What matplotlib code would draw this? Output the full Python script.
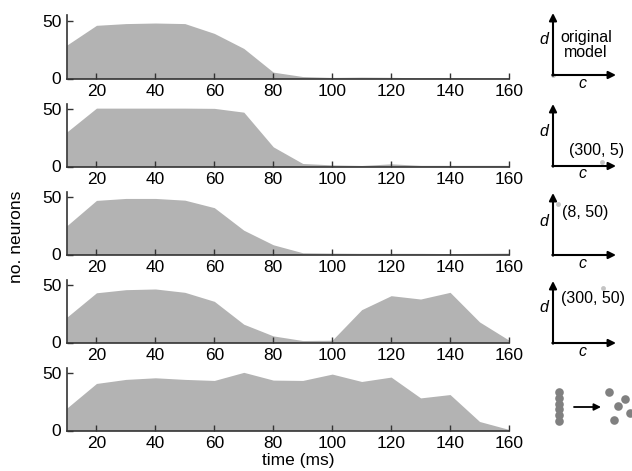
import numpy as np
import matplotlib
matplotlib.use("Agg")
import matplotlib.pyplot as plt

plt.rcParams['font.family'] = ['Liberation Sans', 'DejaVu Sans']

# ---- data ----
time_ms = [10, 20, 30, 40, 50, 60, 70, 80, 90, 100, 110, 120, 130, 140, 150, 160]
orig_model = [29, 46, 47.5, 48, 47.5, 39, 26, 5.5, 1.7, 0.9, 1.2, 1.0, 0.6, 0.8, 0.5, 0.5]
c300_d5 = [30, 50.5, 50.5, 50.5, 50.5, 50.3, 47, 17, 2.6, 1.4, 0.9, 2.3, 1.0, 1.0, 1.0, 1.0]
c8_d50 = [25, 46.8, 48.5, 48.5, 47, 40.5, 21, 8.4, 1.5, 1.2, 1.0, 1.0, 1.0, 0.8, 1.0, 1.2]
c300_d50 = [22, 43, 45.7, 46.3, 43.4, 35.6, 15.8, 5.7, 1.7, 2.0, 28.4, 40.5, 37.6, 43.4, 17.8, 2.0]
shuffled = [19.5, 40.7, 44.2, 45.6, 44.2, 43.3, 50.3, 43.6, 43.3, 48.8, 42.4, 46.2, 28.2, 31.1, 7.8, 0.9]
series = [orig_model, c300_d5, c8_d50, c300_d50, shuffled]
xticks = [20, 40, 60, 80, 100, 120, 140, 160]
yticks = [0, 50]

W, H = 632, 471
fig = plt.figure(figsize=(W / 100, H / 100), dpi=100)

left_px, right_px = 67, 509
ax_h = 63
fill_col = '#b3b3b3'
spine_col = '#333333'

for i, vals in enumerate(series):
    bottom_px = 78.5 + 88 * i
    ax = fig.add_axes([left_px / W, (H - bottom_px) / H, (right_px - left_px) / W, ax_h / H])
    ax.fill_between(time_ms, vals, 0, color=fill_col, linewidth=0)
    ax.set_xlim(10, 160)
    ax.set_ylim(0, 54.5)
    ax.set_xticks(xticks)
    ax.set_yticks(yticks)
    for s in ['top', 'right']:
        ax.spines[s].set_visible(False)
    for s in ['left', 'bottom']:
        ax.spines[s].set_color(spine_col)
        ax.spines[s].set_linewidth(1.2)
    ax.tick_params(direction='in', length=4, width=1.0, color=spine_col,
                   labelsize=12.5, pad=4)
    ax.patch.set_alpha(0)

fig.text(17 / W, 1 - 237 / H, 'no. neurons', rotation=90, fontsize=12.5,
         ha='center', va='center')
fig.text(298 / W, 1 - 461 / H, 'time (ms)', fontsize=12.5, ha='center', va='center')

# ---- schematic insets (pixel coordinates overlay) ----
ov = fig.add_axes([0, 0, 1, 1])
ov.set_xlim(0, W)
ov.set_ylim(H, 0)
ov.axis('off')
ov.patch.set_alpha(0)

arrow_kw = dict(arrowstyle='-|>', lw=1.5, color='black', mutation_scale=11,
                shrinkA=0, shrinkB=0)
origins_y = [75, 166, 255, 343]
labels = [None, '(300, 5)', '(8, 50)', '(300, 50)']
label_pos = [None, (597, 150), (585, 213), (593, 299)]
dot_pos = [(553, 75), (602, 162), (558, 204), (603, 288)]
d_y = [39, 132, 222, 308]
c_y = [83, 174, 264, 352]
for k, oy in enumerate(origins_y):
    ox = 553
    ov.annotate('', xy=(ox, oy - 62), xytext=(ox, oy + 0.7), arrowprops=arrow_kw)
    ov.annotate('', xy=(616, oy), xytext=(ox - 0.7, oy), arrowprops=arrow_kw)
    ov.text(544, d_y[k], 'd', style='italic', fontsize=11.5, ha='center', va='center')
    ov.text(582, c_y[k], 'c', style='italic', fontsize=11.5, ha='center', va='center')
    ov.plot([dot_pos[k][0]], [dot_pos[k][1]], 'o', color='#c4c4c4', markersize=3.5,
            markeredgewidth=0)
    if labels[k]:
        ov.text(label_pos[k][0], label_pos[k][1], labels[k], fontsize=11.5,
                ha='center', va='center')
ov.text(586, 45, 'original\nmodel', fontsize=11.5, ha='center', va='center',
        linespacing=1.0)

# panel 5 schematic: column of dots -> scattered dots
col_y = [392, 397.8, 403.6, 409.4, 415.2, 421]
ov.plot([559] * len(col_y), col_y, 'o', color='#808080', markersize=6.2,
        markeredgewidth=0)
ov.annotate('', xy=(601, 407), xytext=(574, 407),
            arrowprops=dict(arrowstyle='-|>', lw=1.3, color='black', mutation_scale=10,
                            shrinkA=0, shrinkB=0))
scat_x = [609, 625, 618, 630, 614]
scat_y = [392, 399, 406, 413, 420]
ov.plot(scat_x, scat_y, 'o', color='#808080', markersize=6.2, markeredgewidth=0)

fig.savefig('out.png', dpi=100)
